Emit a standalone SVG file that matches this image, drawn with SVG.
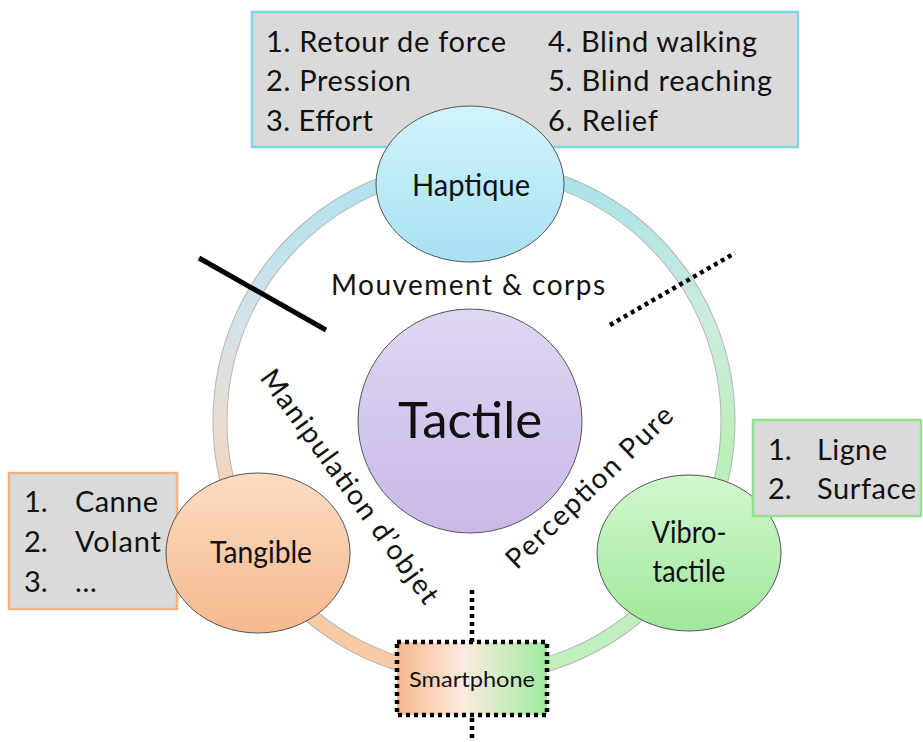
<svg xmlns="http://www.w3.org/2000/svg" width="923" height="742" viewBox="0 0 923 742">
<style>
text{font-family:Lato,"Liberation Sans",sans-serif;fill:#111;}
.lst{font-size:29px;}
.node{stroke:#555;stroke-width:1;}
.lbl{font-size:30px;text-anchor:middle;}
.arc{font-size:28px;text-anchor:middle;}
.dots{stroke:#000;stroke-width:4.5;stroke-dasharray:4 4;fill:none;}
</style>
<defs>
<linearGradient id="ringL" gradientUnits="userSpaceOnUse" x1="0" y1="167" x2="0" y2="675">
<stop offset="0" stop-color="#ade3ef"/>
<stop offset="0.3" stop-color="#d3e2ea"/>
<stop offset="0.5" stop-color="#e9dcd3"/>
<stop offset="0.7" stop-color="#f7cca8"/>
<stop offset="1" stop-color="#f8caa6"/>
</linearGradient>
<linearGradient id="ringR" gradientUnits="userSpaceOnUse" x1="0" y1="167" x2="0" y2="675">
<stop offset="0" stop-color="#a6e2ea"/>
<stop offset="0.3" stop-color="#cdebde"/>
<stop offset="0.55" stop-color="#baefba"/>
<stop offset="1" stop-color="#c2efbe"/>
</linearGradient>
<linearGradient id="gH" x1="0" y1="0" x2="0" y2="1">
<stop offset="0" stop-color="#d2f3fb"/><stop offset="1" stop-color="#a7e1f3"/>
</linearGradient>
<linearGradient id="gT" x1="0" y1="0" x2="0" y2="1">
<stop offset="0" stop-color="#e0d6f2"/><stop offset="1" stop-color="#c9b9e8"/>
</linearGradient>
<linearGradient id="gO" x1="0" y1="0" x2="0" y2="1">
<stop offset="0" stop-color="#fcdcc2"/><stop offset="1" stop-color="#f6b98d"/>
</linearGradient>
<linearGradient id="gV" x1="0" y1="0" x2="0" y2="1">
<stop offset="0" stop-color="#d3f7cf"/><stop offset="1" stop-color="#9fe89b"/>
</linearGradient>
<linearGradient id="gS" x1="0" y1="0" x2="1" y2="0">
<stop offset="0" stop-color="#f8b98f"/>
<stop offset="0.45" stop-color="#fbeadf"/>
<stop offset="1" stop-color="#9fec9f"/>
</linearGradient>
</defs>

<g id="ring">
<circle cx="474" cy="421" r="254" fill="none" stroke="#b5b5b5" stroke-width="15"/>
<path d="M474,167 A254,254 0 0 0 474,675" fill="none" stroke="url(#ringL)" stroke-width="13"/>
<path d="M474,167 A254,254 0 0 1 474,675" fill="none" stroke="url(#ringR)" stroke-width="13"/>
</g>

<g id="connectors">
<line x1="199" y1="258" x2="326" y2="330" stroke="#000" stroke-width="5"/>
<line class="dots" x1="610" y1="325" x2="735" y2="253"/>
<line class="dots" x1="472" y1="590" x2="472" y2="742"/>
</g>

<g id="haptique-list">
<rect x="252" y="12" width="546" height="135" fill="#dadada" stroke="#7fd6de" stroke-width="2.5"/>
<text class="lst" x="266" y="52" textLength="240">1. Retour de force</text>
<text class="lst" x="266" y="91" textLength="145">2. Pression</text>
<text class="lst" x="266" y="131" textLength="107">3. Effort</text>
<text class="lst" x="548" y="52" textLength="209">4. Blind walking</text>
<text class="lst" x="548" y="91" textLength="224">5. Blind reaching</text>
<text class="lst" x="548" y="131" textLength="110">6. Relief</text>
</g>

<g id="tangible-list">
<rect x="9" y="473" width="168" height="136" fill="#dadada" stroke="#f4b183" stroke-width="2.5"/>
<text class="lst" x="24" y="512">1.</text><text class="lst" x="75" y="512" textLength="83">Canne</text>
<text class="lst" x="24" y="552">2.</text><text class="lst" x="75" y="552" textLength="86">Volant</text>
<text class="lst" x="24" y="592">3.</text><text class="lst" x="75" y="592">…</text>
</g>

<g id="haptique">
<ellipse class="node" cx="470" cy="184" rx="94" ry="78" fill="url(#gH)"/>
<text class="lbl" x="471" y="196" textLength="118" lengthAdjust="spacingAndGlyphs">Haptique</text>
</g>

<g id="tactile">
<circle class="node" cx="470" cy="421" r="112" fill="url(#gT)"/>
<text x="470" y="438" font-size="50" text-anchor="middle" textLength="144" lengthAdjust="spacingAndGlyphs">Tactile</text>
</g>

<g id="tangible">
<ellipse class="node" cx="258" cy="553" rx="92" ry="80" fill="url(#gO)"/>
<text class="lbl" x="261" y="563" textLength="102" lengthAdjust="spacingAndGlyphs">Tangible</text>
</g>

<g id="vibrotactile">
<ellipse class="node" cx="689" cy="553" rx="92" ry="78" fill="url(#gV)"/>
<text class="lbl" x="689" y="543" textLength="75" lengthAdjust="spacingAndGlyphs">Vibro-</text>
<text class="lbl" x="689" y="582" textLength="73" lengthAdjust="spacingAndGlyphs">tactile</text>
</g>

<g id="vibro-list">
<rect x="753" y="420" width="168" height="96" fill="#dadada" stroke="#93e28e" stroke-width="2.5"/>
<text class="lst" x="768" y="460">1.</text><text class="lst" x="817" y="460" textLength="70">Ligne</text>
<text class="lst" x="768" y="499">2.</text><text class="lst" x="817" y="499" textLength="99">Surface</text>
</g>

<g id="smartphone">
<rect x="397" y="642" width="150" height="73" fill="url(#gS)"/>
<rect class="dots" x="397" y="642" width="150" height="73"/>
<text x="472" y="687" font-size="21" text-anchor="middle" textLength="126" lengthAdjust="spacingAndGlyphs">Smartphone</text>
</g>

<g id="labels">
<text class="arc" x="468" y="295" textLength="274">Mouvement &amp; corps</text>
<text class="arc" transform="translate(342,492) rotate(54)" x="0" y="0" textLength="282">Manipulation d’objet</text>
<text class="arc" transform="translate(596,494) rotate(-44)" x="0" y="0" textLength="220">Perception Pure</text>
</g>
</svg>
